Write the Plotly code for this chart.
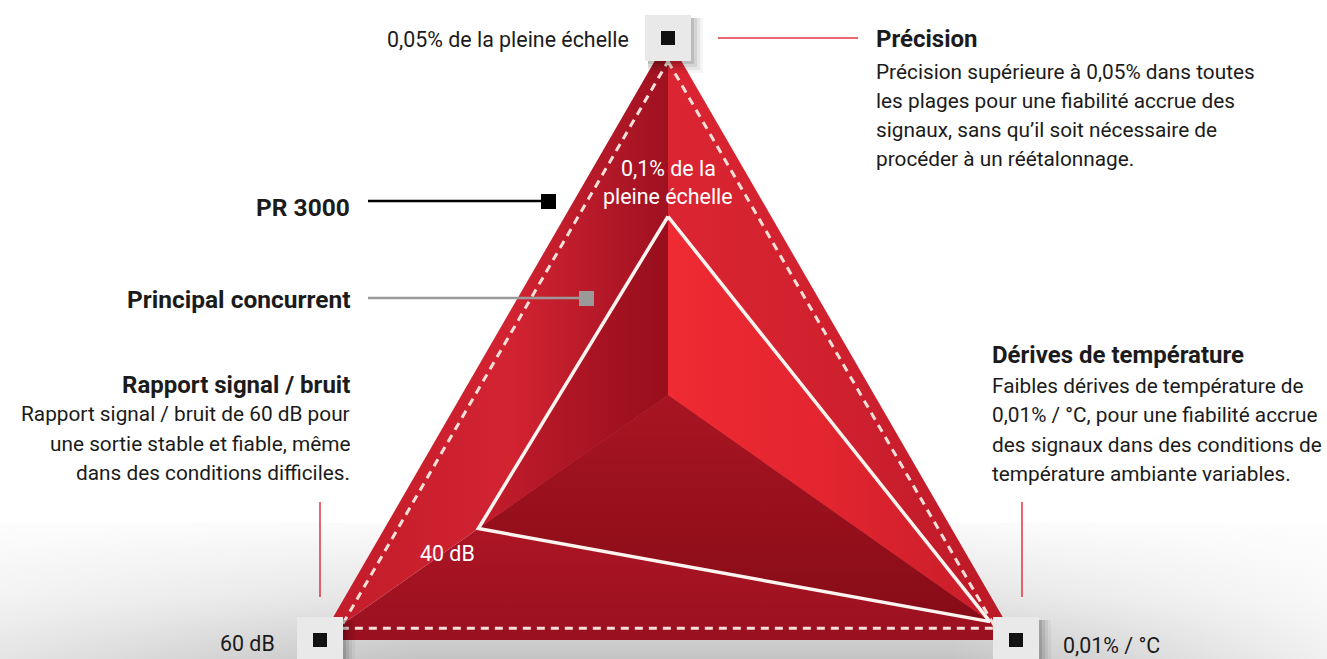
import plotly.graph_objects as go

# ---------------- data ----------------
axis_names = ["Précision", "Dérives de température", "Rapport signal / bruit"]
pr3000_values = [1.0, 1.0, 1.0]
competitor_values = [0.50, 0.925, 0.545]
pr3000_tick_labels = ["0,05% de la pleine échelle", "0,01% / °C", "60 dB"]
competitor_tick_labels = ["0,1% de la", "pleine échelle", "40 dB"]
series_names = ["PR 3000", "Principal concurrent"]

precision_text = ["Précision supérieure à 0,05% dans toutes",
                  "les plages pour une fiabilité accrue des",
                  "signaux, sans qu’il soit nécessaire de",
                  "procéder à un réétalonnage."]
drift_text = ["Faibles dérives de température de",
              "0,01% / °C, pour une fiabilité accrue",
              "des signaux dans des conditions de",
              "température ambiante variables."]
snr_text = ["Rapport signal / bruit de 60 dB pour",
            "une sortie stable et fiable, même",
            "dans des conditions difficiles."]

# ---------------- geometry (layout) ----------------
W, H = 1327, 659
CENTER = (668, 395)
AXIS_ENDS = [(668, 38), (1016, 640), (320, 640)]   # top, bottom-right, bottom-left

FONT = "Roboto"
DARK = "#1b1b1b"
RED_LINE = "#e3323c"
BODY = 20.8
TICK = 21.4
HEAD = 24
LEG = 24.5


def vertex(i, v):
    cx, cy = CENTER
    ex, ey = AXIS_ENDS[i]
    return (cx + v * (ex - cx), cy + v * (ey - cy))


def facet(i, j, values):
    a = vertex(i, values[i])
    b = vertex(j, values[j])
    xs = [CENTER[0], a[0], b[0], CENTER[0]]
    ys = [CENTER[1], a[1], b[1], CENTER[1]]
    return xs, ys


fig = go.Figure()

# floor
fig.add_trace(go.Scatter(x=[0, W, W, 0, 0], y=[523, 523, H, H, 523], mode="lines",
                         fill="toself", line=dict(width=0), hoverinfo="skip",
                         fillgradient=dict(type="vertical",
                                           colorscale=[[0, "#c4c4c4"], [0.45, "#e4e4e4"], [1, "#fbfbfb"]])))
fig.add_trace(go.Scatter(x=[0, 420, 420, 0, 0], y=[523, 523, H, H, 523], mode="lines",
                         fill="toself", line=dict(width=0), hoverinfo="skip",
                         fillgradient=dict(type="horizontal",
                                           colorscale=[[0, "rgba(255,255,255,0.55)"], [1, "rgba(255,255,255,0)"]])))
fig.add_trace(go.Scatter(x=[950, W, W, 950, 950], y=[523, 523, H, H, 523], mode="lines",
                         fill="toself", line=dict(width=0), hoverinfo="skip",
                         fillgradient=dict(type="horizontal",
                                           colorscale=[[0, "rgba(255,255,255,0)"], [1, "rgba(255,255,255,0.75)"]])))

# PR 3000 pyramid facets
outer_styles = {
    (0, 1): ("horizontal", [[0, "#dc2532"], [0.6, "#cc1f2d"], [1, "#b91826"]]),
    (1, 2): ("vertical", [[0, "#9a1020"], [1, "#c21c29"]]),
    (2, 0): ("horizontal", [[0, "#c21c2a"], [0.55, "#d22331"], [1, "#9f1121"]]),
}
for (i, j), (gtype, cs) in outer_styles.items():
    xs, ys = facet(i, j, pr3000_values)
    fig.add_trace(go.Scatter(x=xs, y=ys, mode="lines", fill="toself", line=dict(width=0),
                             hoverinfo="skip", fillgradient=dict(type=gtype, colorscale=cs)))

# competitor pyramid facets
inner_styles = {
    (0, 1): ("horizontal", [[0, "#ef2a33"], [0.5, "#e2252f"], [1, "#c81d2b"]]),
    (1, 2): ("vertical", [[0, "#860c17"], [1, "#a91522"]]),
    (2, 0): ("horizontal", [[0, "#c41d2c"], [1, "#970e1d"]]),
}
for (i, j), (gtype, cs) in inner_styles.items():
    xs, ys = facet(i, j, competitor_values)
    fig.add_trace(go.Scatter(x=xs, y=ys, mode="lines", fill="toself", line=dict(width=0),
                             hoverinfo="skip", fillgradient=dict(type=gtype, colorscale=cs)))

# competitor outline
comp_pts = [vertex(k, competitor_values[k]) for k in range(3)] + [vertex(0, competitor_values[0])]
fig.add_trace(go.Scatter(x=[p[0] for p in comp_pts], y=[p[1] for p in comp_pts], mode="lines",
                         line=dict(color="#fdf3ef", width=3.5), hoverinfo="skip"))

# PR 3000 stitched (dashed) outline, inset from the outer edge
outer_pts = [vertex(k, pr3000_values[k]) for k in range(3)]
gx = sum(p[0] for p in outer_pts) / 3
gy = sum(p[1] for p in outer_pts) / 3
INSET = 0.942
dash_pts = [(gx + INSET * (p[0] - gx), gy + INSET * (p[1] - gy)) for p in outer_pts] + \
           [(gx + INSET * (outer_pts[0][0] - gx), gy + INSET * (outer_pts[0][1] - gy))]
fig.add_trace(go.Scatter(x=[p[0] for p in dash_pts], y=[p[1] for p in dash_pts], mode="lines",
                         line=dict(color="#f7e0d9", width=3, dash="8px,6px"), hoverinfo="skip"))

shapes = []
# corner boxes with soft shadow
BOX = 23
for k in range(3):
    bx, by = outer_pts[k]
    for s, a in [(12, 0.04), (9, 0.06), (6, 0.08), (3, 0.11)]:
        shapes.append(dict(type="rect", x0=bx - BOX + 3, x1=bx + BOX + s, y0=by - BOX + 3, y1=by + BOX + s,
                           fillcolor=f"rgba(0,0,0,{a})", line=dict(width=0)))
    shapes.append(dict(type="rect", x0=bx - BOX, x1=bx + BOX, y0=by - BOX, y1=by + BOX,
                       fillcolor="#e9e9e9", line=dict(width=0)))
    shapes.append(dict(type="rect", x0=bx - 7, x1=bx + 7, y0=by - 7, y1=by + 7,
                       fillcolor="#111111", line=dict(width=0)))

# leader lines
shapes.append(dict(type="line", x0=718, x1=858, y0=38, y1=38, line=dict(color=RED_LINE, width=1.5)))
shapes.append(dict(type="line", x0=320, x1=320, y0=502, y1=597, line=dict(color=RED_LINE, width=1.5)))
shapes.append(dict(type="line", x0=1022, x1=1022, y0=502, y1=597, line=dict(color=RED_LINE, width=1.5)))

# legend keys
shapes.append(dict(type="line", x0=368, x1=545, y0=201, y1=201, line=dict(color="#000000", width=2.5)))
shapes.append(dict(type="rect", x0=541, x1=556, y0=194, y1=209, fillcolor="#000000", line=dict(width=0)))
shapes.append(dict(type="line", x0=368, x1=582, y0=298, y1=298, line=dict(color="#9a9a9a", width=2.5)))
shapes.append(dict(type="rect", x0=579, x1=594, y0=291, y1=306, fillcolor="#9a9a9a", line=dict(width=0)))

ann = []


def text(x, y, s, size=BODY, color=DARK, anchor="left", bold=False):
    t = f"<b>{s}</b>" if bold else s
    ann.append(dict(x=x, y=y, xref="x", yref="y", text=t, showarrow=False, xanchor=anchor,
                    yanchor="middle", font=dict(family=FONT, size=size, color=color)))


# axis value labels
text(631, 39, pr3000_tick_labels[0], size=TICK, anchor="right")
text(1061, 645, pr3000_tick_labels[1], size=TICK, anchor="left")
text(277, 643, pr3000_tick_labels[2], size=TICK, anchor="right")
text(668, 168, competitor_tick_labels[0], size=TICK, color="#ffffff", anchor="center")
text(668, 196, competitor_tick_labels[1], size=TICK, color="#ffffff", anchor="center")
text(447, 553, competitor_tick_labels[2], size=TICK, color="#ffffff", anchor="center")

# axis descriptions
text(874, 39, axis_names[0], size=HEAD, bold=True)
for n, line in enumerate(precision_text):
    text(874, 72 + 29 * n, line)
text(990, 355, axis_names[1], size=HEAD, bold=True)
for n, line in enumerate(drift_text):
    text(990, 386 + 29.3 * n, line)
text(352, 385, axis_names[2], size=HEAD, bold=True, anchor="right")
for n, line in enumerate(snr_text):
    text(352, 414 + 29.5 * n, line, anchor="right")

# legend labels
text(352, 207, series_names[0], size=LEG, bold=True, anchor="right")
text(352, 299, series_names[1], size=LEG, bold=True, anchor="right")

fig.update_layout(
    width=W, height=H, margin=dict(l=0, r=0, t=0, b=0),
    paper_bgcolor="#ffffff", plot_bgcolor="#ffffff", showlegend=False,
    xaxis=dict(range=[0, W], visible=False, fixedrange=True),
    yaxis=dict(range=[H, 0], visible=False, fixedrange=True),
    shapes=shapes, annotations=ann,
)
fig.write_html("out.html", config={"displayModeBar": False},
               post_script="document.body.style.margin='0';document.body.style.overflow='hidden';")
